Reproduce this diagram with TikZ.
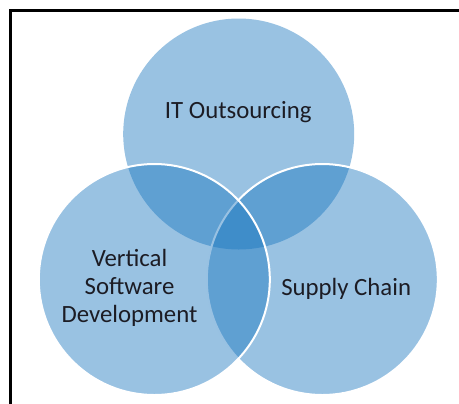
\documentclass[tikz,border=0pt]{standalone}
\usepackage{fontspec}
\setmainfont{Carlito}
\usetikzlibrary{positioning}

\definecolor{vennblue}{RGB}{22,116,190}
\definecolor{vennink}{RGB}{28,28,36}

\begin{document}
\begin{tikzpicture}[
    x=0.5pt, y=0.5pt,
    set/.style={circle, minimum size=115.5pt, inner sep=0pt, outer sep=0pt, fill=vennblue, fill opacity=0.44},
    rim/.style={draw=white, line width=1pt},
    setlabel/.style={text=vennink, inner sep=0pt, align=center, font=\fontsize{12.4}{14}\selectfont}
]
\clip (0,0) rectangle (459,403);

% Frame
\draw[line width=1.5pt] (10.5,-20) |- (480,392.5);

% The three sets
\node[set] (outsourcing) at (238.7,269) {};
\node[set, rim] (supply) at (322.3,123.5) {};
\node[set, rim] (vertical) at (154.3,123.5) {};

% Labels
\node[setlabel, anchor=base] (itlabel) at (238.3,284.7) {IT Outsourcing};
\node[setlabel, anchor=base] (supplylabel) at (346.2,108) {Supply Chain};
\node[setlabel] (verticallabel) at (129.5,115) {Vertical\\Software\\Development};

\end{tikzpicture}
\end{document}
